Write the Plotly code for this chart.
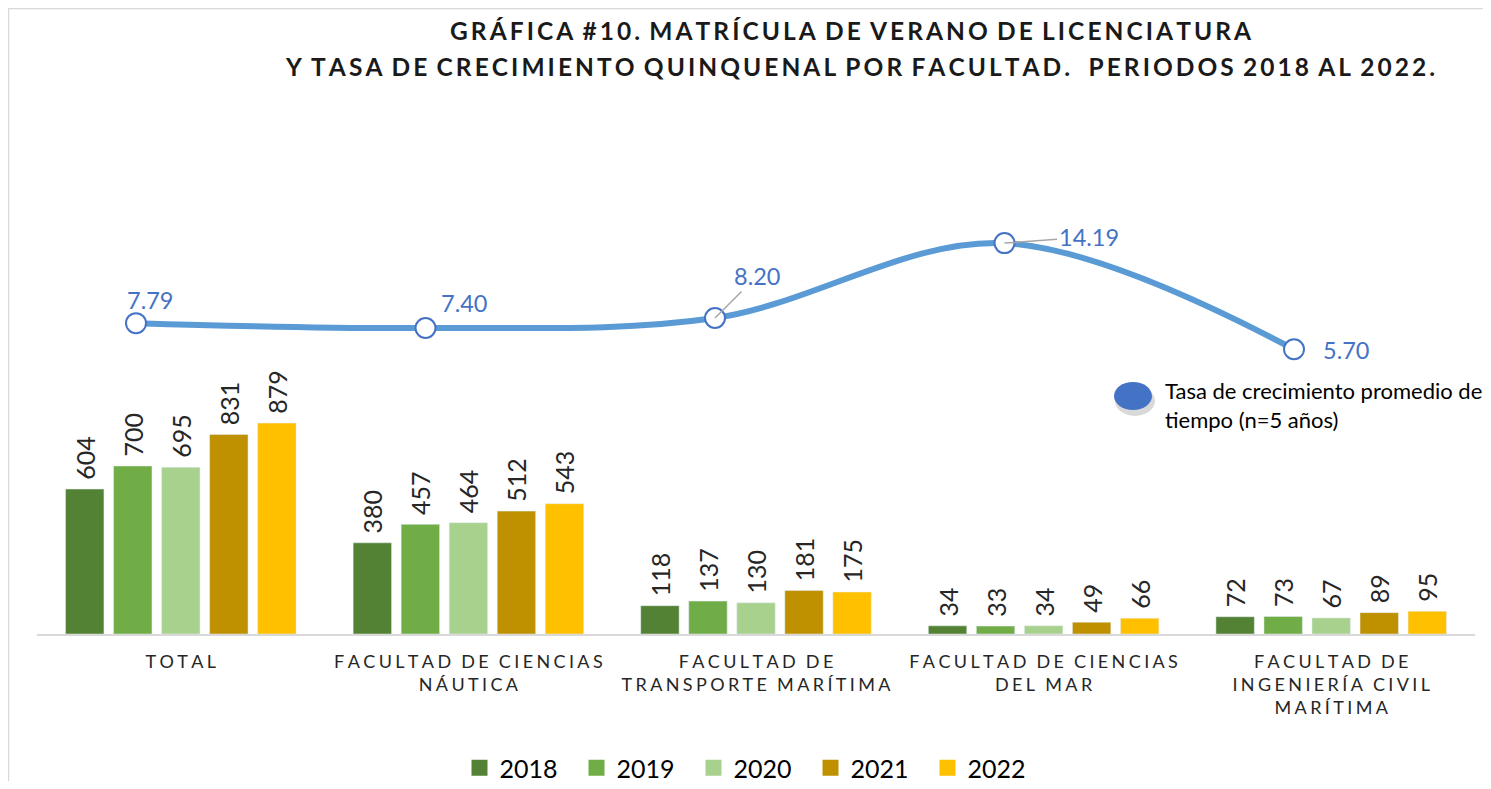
import plotly.graph_objects as go

# ---------------- data ----------------
categories = [
    "TOTAL",
    "FACULTAD DE CIENCIAS<br>NÁUTICA",
    "FACULTAD DE<br>TRANSPORTE MARÍTIMA",
    "FACULTAD DE CIENCIAS<br>DEL MAR",
    "FACULTAD DE<br>INGENIERÍA CIVIL<br>MARÍTIMA",
]
years = ["2018", "2019", "2020", "2021", "2022"]
values_2018 = [604, 380, 118, 34, 72]
values_2019 = [700, 457, 137, 33, 73]
values_2020 = [695, 464, 130, 34, 67]
values_2021 = [831, 512, 181, 49, 89]
values_2022 = [879, 543, 175, 66, 95]
growth_rate = [7.79, 7.40, 8.20, 14.19, 5.70]
growth_label = "Tasa de crecimiento promedio de<br>tiempo (n=5 años)"
title_line1 = "GRÁFICA #10. MATRÍCULA DE VERANO DE LICENCIATURA"
title_line2 = "Y TASA DE CRECIMIENTO QUINQUENAL POR FACULTAD.  PERIODOS 2018 AL 2022."

bar_colors = ["#548235", "#70AD47", "#A9D18E", "#BF9000", "#FFC000"]

TS = "\u2009"  # thin space
HS = "\u200a"  # hair space


def spaced(s, gap):
    lines = s.split("<br>")
    out = []
    for ln in lines:
        words = ln.split(" ")
        out.append((gap * 3).join(gap.join(list(w)) for w in words))
    return "<br>".join(out)


# page body has an 8px margin; figure sized to fit inside the window
OFF = 8
W, H = 1491 - 2 * OFF, 789 - 2 * OFF
L, R, T, B = 29, 8, 122, 147
PW, PH = W - L - R, H - T - B


def px(sx):
    return (sx - OFF - L) / PW


def py(sy):
    return (H - B - (sy - OFF)) / PH


FONT = "Lato"

fig = go.Figure()
series = [values_2018, values_2019, values_2020, values_2021, values_2022]
cat_idx = list(range(len(categories)))
for yr, vals, col in zip(years, series, bar_colors):
    fig.add_trace(go.Bar(
        x=cat_idx, y=vals, name=yr, marker_color=col, showlegend=False,
        text=[" " + str(v) for v in vals], textposition="outside", textangle=-90,
        constraintext="none",
        textfont=dict(family=FONT, size=25, color="#262626"),
        cliponaxis=False, hoverinfo="skip",
    ))
# legend entries (square swatches matching the bar colours)
for yr, col in zip(years, bar_colors):
    fig.add_trace(go.Scatter(
        x=[None], y=[None], name=yr, mode="markers",
        marker=dict(symbol="square", size=17, color=col),
        showlegend=True, hoverinfo="skip",
    ))

fig.add_trace(go.Scatter(
    x=cat_idx, y=growth_rate, xaxis="x2", yaxis="y2",
    mode="lines+markers", showlegend=False,
    line=dict(color="#5B9BD5", width=6, shape="spline", smoothing=1),
    marker=dict(size=20, color="white", line=dict(color="#4472C4", width=2)),
    cliponaxis=False,
))

# line value labels
lbl_font = dict(family=FONT, size=23.5, color="#4472C4")
offsets = [(14, -23, False), (38, -25, False), (42, -42, True), (84, -6, True), (52, 1, False)]
annotations = []
for i, (v, (dx, dy, arrow)) in enumerate(zip(growth_rate, offsets)):
    if arrow:
        annotations.append(dict(
            x=i, y=v, xref="x2", yref="y2", text=f"{v:.2f}", font=lbl_font,
            showarrow=True, arrowhead=0, arrowwidth=1.5, arrowcolor="#A6A6A6",
            ax=dx, ay=dy, standoff=0))
    else:
        annotations.append(dict(
            x=i, y=v, xref="x2", yref="y2", text=f"{v:.2f}", font=lbl_font,
            showarrow=False, xshift=dx, yshift=-dy))

# title
title_font = dict(family=FONT, size=24.5, color="#1A1A1A")
annotations.append(dict(
    x=px(851), y=py(30), xref="paper", yref="paper", showarrow=False,
    xanchor="center", yanchor="middle",
    text="<b>" + spaced(title_line1, TS) + "</b>", font=title_font))
annotations.append(dict(
    x=px(860), y=py(66), xref="paper", yref="paper", showarrow=False,
    xanchor="center", yanchor="middle",
    text="<b>" + spaced(title_line2, TS) + "</b>", font=title_font))

# callout legend for the line
annotations.append(dict(
    x=px(1163), y=py(405), xref="paper", yref="paper", showarrow=False,
    xanchor="left", yanchor="middle", align="left",
    text=growth_label, font=dict(family=FONT, size=22, color="#000000")))

shapes = [
    # outer chart border (left and top visible)
    dict(type="rect", xref="paper", yref="paper",
         x0=px(8.5), x1=px(1530), y0=py(830), y1=py(8.5),
         line=dict(color="#D9D9D9", width=1.5), fillcolor="rgba(0,0,0,0)", layer="below"),
    # shadow of ellipse
    dict(type="circle", xref="paper", yref="paper",
         x0=px(1115), x1=px(1155), y0=py(416), y1=py(386),
         line=dict(width=0), fillcolor="rgba(0,0,0,0.15)"),
    dict(type="circle", xref="paper", yref="paper",
         x0=px(1114), x1=px(1152), y0=py(410), y1=py(382),
         line=dict(width=0), fillcolor="#4472C4"),
]

fig.update_layout(
    width=W, height=H,
    margin=dict(l=L, r=R, t=T, b=B, autoexpand=False),
    paper_bgcolor="white", plot_bgcolor="white",
    barmode="group", bargap=0.165, bargroupgap=0.2,
    font=dict(family=FONT),
    xaxis=dict(
        range=[-0.5, 4.5], tickmode="array", tickvals=cat_idx,
        ticktext=[spaced(c, TS + HS) for c in categories],
        tickfont=dict(family=FONT, size=18, color="#262626"),
        ticklabelstandoff=10,
        showline=True, linecolor="#D9D9D9", linewidth=2, ticks="",
        showgrid=False, zeroline=False, fixedrange=True,
    ),
    xaxis2=dict(
        overlaying="x", range=[(L - 128) / 289.5, (L + PW - 128) / 289.5],
        visible=False, showgrid=False,
    ),
    yaxis=dict(range=[0, 2100], visible=False, showgrid=False, zeroline=False),
    yaxis2=dict(overlaying="y", range=[-17.08, 23.24], visible=False,
                showgrid=False, zeroline=False),
    showlegend=True,
    legend=dict(
        orientation="h", x=px(752), xanchor="center", y=py(768), yanchor="middle",
        font=dict(family=FONT, size=25, color="#000000"),
        traceorder="normal", itemwidth=30, entrywidth=72, itemsizing="trace",
    ),
    annotations=annotations,
    shapes=shapes,
)

fig.write_html("out.html")
